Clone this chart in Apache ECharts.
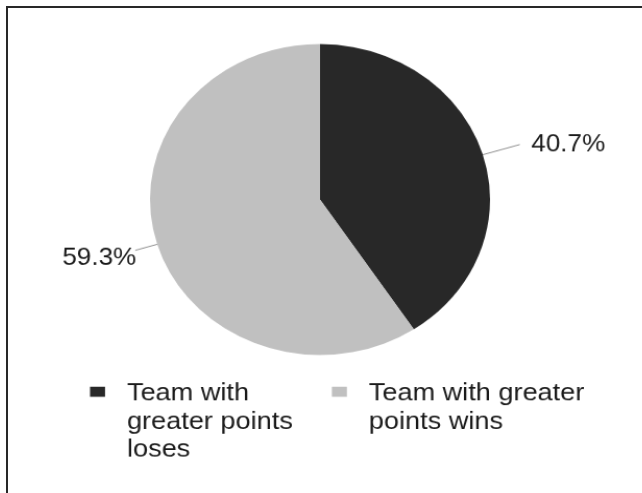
<!DOCTYPE html>
<html><head><meta charset="utf-8">
<script src="https://cdn.jsdelivr.net/npm/echarts@6/dist/echarts.min.js"></script>
<style>
html,body{margin:0;padding:0;background:#fff;width:642px;height:493px;overflow:hidden}
#frame{position:absolute;left:6px;top:6px;width:640px;height:490px;border-top:2px solid #282828;border-left:2px solid #282828;box-sizing:border-box}
#chart{position:absolute;left:0;top:0;width:642px;height:493px;transform-origin:320px 199.5px;transform:scale(1.043,0.954)}
</style></head><body><div id="frame"></div><div id="chart"></div>
<script>
const categories = ['Team with greater points loses', 'Team with greater points wins'];
const shares = [40.7, 59.3];
const sliceColors = ['#282828', '#c0c0c0'];

const FONT = "'Liberation Sans', Arial, sans-serif";
const TEXT = '#1a1a1a';

// per-slice label placement (style, not data)
const labelTweaks = [
  { labelLine: { length: 37 }, label: { distanceToLabelLine: 11 } },
  { labelLine: { length: 22 }, label: { distanceToLabelLine: -1, formatter: '\n{c}%', lineHeight: 17 } }
];
// legend wrapping: max characters per line for each item
const wrapChars = [14, 17];
function wrap(name, max) {
  const words = name.split(' ');
  const lines = [];
  let cur = '';
  words.forEach(w => {
    if (!cur) cur = w;
    else if ((cur + ' ' + w).length <= max) cur += ' ' + w;
    else { lines.push(cur); cur = w; }
  });
  if (cur) lines.push(cur);
  return lines;
}
const wrapped = categories.map((c, i) => wrap(c, wrapChars[i]));
const maxLines = Math.max.apply(null, wrapped.map(l => l.length));
const LH = 29.3;
const IH = LH * maxLines;
// legend icon: small square + invisible extent markers so icon aligns with first text line
function iconPath(y) {
  return 'path://M0,' + y + 'H14.4V' + (y + 10.5) + 'H0Z M30.39,0H30.4V0.01H30.39Z M0,' + (IH - 0.01) + 'H0.01V' + IH + 'H0Z';
}

const chart = echarts.init(document.getElementById('chart'), null, { renderer: 'canvas' });
chart.setOption({
  animation: false,
  backgroundColor: 'transparent',
  legend: {
    left: 99.5, top: 388.5, padding: 0, orient: 'horizontal',
    itemGap: 37.5, itemWidth: 30.4, itemHeight: IH,
    selectedMode: false,
    icon: iconPath(7.2),
    textStyle: { fontSize: 26, fontFamily: FONT, color: TEXT, lineHeight: LH },
    formatter: function (name) {
      const i = categories.indexOf(name);
      const lines = wrapped[i].slice();
      while (lines.length < maxLines) lines.push('');
      return lines.join('\n');
    },
    data: categories.map(c => ({ name: c }))
  },
  series: [{
    type: 'pie',
    center: [320, 199.5],
    radius: 163,
    startAngle: 90,
    clockwise: true,
    avoidLabelOverlap: false,
    emphasis: { disabled: true },
    itemStyle: { borderWidth: 0 },
    label: { show: true, position: 'outside', formatter: '{c}%', fontSize: 25, fontFamily: FONT, color: TEXT },
    labelLine: { show: true, length2: 0, smooth: false, lineStyle: { color: '#8a8a8a', width: 1 } },
    data: categories.map((c, i) => Object.assign({
      name: c, value: shares[i], itemStyle: { color: sliceColors[i] }
    }, labelTweaks[i]))
  }]
});
</script></body></html>
